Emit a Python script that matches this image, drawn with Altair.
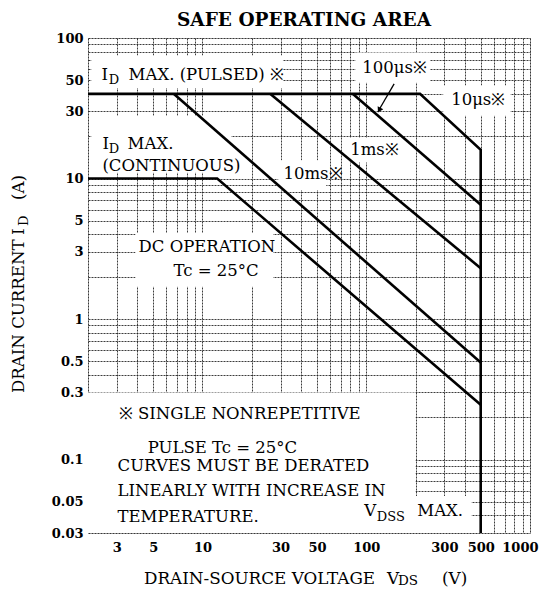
import altair as alt
import pandas as pd

# ---------------- data ----------------
# SOA boundary curves: drain-source voltage (V) and drain current (A)
curve_name = ["10us", "10us", "10us", "10us",
              "100us", "100us",
              "1ms", "1ms",
              "10ms", "10ms",
              "DC", "DC", "DC"]
curve_v = [2, 213, 500, 500,
           83, 500,
           26, 500,
           6.7, 500,
           2, 12.3, 500]
curve_i = [40, 40, 16, 0.03,
           40, 6.5,
           40, 2.3,
           40, 0.49,
           10, 10, 0.245]

# axis tick / grid values
x_grid = [2, 3, 4, 5, 6, 7, 8, 9, 10, 20, 30, 40, 50, 60, 70, 80, 90,
          100, 200, 300, 400, 500, 600, 700, 800, 900, 1000]
x_labels = [3, 5, 10, 30, 50, 100, 300, 500, 1000]
y_grid = [0.03, 0.04, 0.05, 0.06, 0.07, 0.08, 0.09,
          0.1, 0.2, 0.3, 0.4, 0.5, 0.6, 0.7, 0.8, 0.9,
          1, 2, 3, 4, 5, 6, 7, 8, 9,
          10, 20, 30, 40, 50, 60, 70, 80, 90, 100]
y_labels = [0.03, 0.05, 0.1, 0.3, 0.5, 1, 3, 5, 10, 30, 50, 100]

# white label backgrounds (data units)
box_v1 = [2.1, 2.1, 3.9, 29, 74, 86, 295, 2, 95]
box_v2 = [31, 15, 27, 57, 165, 245, 760, 200, 440]
box_i1 = [44, 11, 1.7, 8.3, 13, 48, 28, 0.03, 0.03]
box_i2 = [75, 28, 4.1, 13.5, 19.5, 79, 46, 0.3, 0.055]

# annotation texts (anchor at left, middle)
label_text = ["I", "MAX. (PULSED) ※",
              "I", "MAX.", "(CONTINUOUS)",
              "DC OPERATION", "Tc = 25°C",
              "10ms※", "1ms※", "100μs※", "10μs※",
              "※  SINGLE NONREPETITIVE", "PULSE  Tc = 25°C",
              "CURVES MUST BE DERATED", "LINEARLY WITH INCREASE IN",
              "TEMPERATURE.",
              "V", "MAX."]
label_v = [2.42, 3.54,
           2.45, 3.49, 2.45,
           4.07, 6.65,
           31.2, 79.8, 94.6, 330,
           3.08, 4.63,
           3.03, 3.03,
           3.03,
           97.3, 205]
label_i = [54.5, 54.5,
           17.6, 17.6, 12.3,
           3.23, 2.20,
           10.8, 16.0, 61.2, 36.2,
           0.211, 0.1217,
           0.090, 0.0597,
           0.039,
           0.043, 0.043]

# subscripts
sub_text = ["D", "D", "DSS"]
sub_v = [2.68, 2.68, 116]
sub_i = [50.2, 16.3, 0.0392]

# arrow for the 100 μs label
arrow_v = [148, 121]
arrow_i = [47.1, 31.5]
arrow_head_v = [120]
arrow_head_i = [30.7]

# ---------------- frames ----------------
order = []
cnt = {}
for n in curve_name:
    cnt[n] = cnt.get(n, 0) + 1
    order.append(cnt[n])
curves = pd.DataFrame({"curve": curve_name, "V": curve_v, "I": curve_i, "ord": order})
boxes = pd.DataFrame({"v1": box_v1, "v2": box_v2, "i1": box_i1, "i2": box_i2})
labels = pd.DataFrame({"V": label_v, "I": label_i, "text": label_text})
subs = pd.DataFrame({"V": sub_v, "I": sub_i, "text": sub_text})
arrow = pd.DataFrame({"V": arrow_v, "I": arrow_i, "k": [0, 1]})
head = pd.DataFrame({"V": arrow_head_v, "I": arrow_head_i})

FONT = "DejaVu Serif"

xlab_expr = "indexof(%s, datum.value) >= 0 ? format(datum.value, '~g') : ''" % str(x_labels)
ylab_expr = "indexof(%s, datum.value) >= 0 ? format(datum.value, '~g') : ''" % str(y_labels)

xscale = alt.Scale(type="log", domain=[2, 1000], nice=False)
yscale = alt.Scale(type="log", domain=[0.03, 100], nice=False)

common_axis = dict(title=None, ticks=False, domain=False, labelOverlap=False,
                   labelBound=False, labelFont=FONT, labelFontSize=13,
                   labelFontWeight="bold", labelColor="black", grid=True,
                   gridColor="#1a1a1a", gridDash=[2, 1], gridWidth=1, gridOpacity=0.85)
xaxis = alt.Axis(values=x_grid, labelExpr=xlab_expr, labelPadding=8,
                 labelFlush=True, labelFlushOffset=8, **common_axis)
yaxis = alt.Axis(values=y_grid, labelExpr=ylab_expr, labelPadding=5,
                 labelFlush=False, **common_axis)

box_layer = alt.Chart(boxes).mark_rect(color="white").encode(
    x=alt.X("v1:Q", scale=xscale, axis=xaxis),
    x2="v2:Q",
    y=alt.Y("i1:Q", scale=yscale, axis=yaxis),
    y2="i2:Q",
)

line_layer = alt.Chart(curves).mark_line(color="black", strokeWidth=2.6, clip=True).encode(
    x=alt.X("V:Q", scale=xscale),
    y=alt.Y("I:Q", scale=yscale),
    detail="curve:N",
    order="ord:Q",
)

arrow_layer = alt.Chart(arrow).mark_line(color="black", strokeWidth=1.3).encode(
    x=alt.X("V:Q", scale=xscale),
    y=alt.Y("I:Q", scale=yscale),
    order="k:Q",
)
head_layer = alt.Chart(head).mark_point(shape="triangle-up", filled=True, color="black",
                                        size=40, angle=208, opacity=1).encode(
    x=alt.X("V:Q", scale=xscale),
    y=alt.Y("I:Q", scale=yscale),
)

text_layer = alt.Chart(labels).mark_text(align="left", baseline="middle", font=FONT,
                                         fontSize=16.5, color="black").encode(
    x=alt.X("V:Q", scale=xscale),
    y=alt.Y("I:Q", scale=yscale),
    text="text:N",
)
sub_layer = alt.Chart(subs).mark_text(align="left", baseline="middle", font=FONT,
                                      fontSize=13, color="black").encode(
    x=alt.X("V:Q", scale=xscale),
    y=alt.Y("I:Q", scale=yscale),
    text="text:N",
)

# chart title and axis titles with subscripts (positions relative to the plot area)
title_layer = alt.Chart(pd.DataFrame({"t": ["SAFE OPERATING AREA"]})).mark_text(
    align="center", baseline="alphabetic", font=FONT, fontSize=18.5, fontWeight="bold",
    color="black").encode(x=alt.value(216), y=alt.value(-12), text="t:N")

xt_text = ["DRAIN-SOURCE VOLTAGE", "V", "(V)"]
xt_x = [56, 299, 354]
xtitle = alt.Chart(pd.DataFrame({"t": xt_text, "px": xt_x})).mark_text(
    align="left", baseline="middle", font=FONT, fontSize=16.8, color="black").encode(
    x=alt.X("px:Q", scale=None), y=alt.value(541), text="t:N")
xsub = alt.Chart(pd.DataFrame({"t": ["DS"]})).mark_text(
    align="left", baseline="middle", font=FONT, fontSize=13.5, color="black").encode(
    x=alt.value(310), y=alt.value(543), text="t:N")

yt_text = ["DRAIN CURRENT", "I", "(A)"]
yt_y = [355, 197, 162]
ytitle = alt.Chart(pd.DataFrame({"t": yt_text, "py": yt_y})).mark_text(
    align="left", baseline="middle", font=FONT, fontSize=16.6, color="black", angle=270).encode(
    y=alt.Y("py:Q", scale=None), x=alt.value(-69), text="t:N")
ysub = alt.Chart(pd.DataFrame({"t": ["D"]})).mark_text(
    align="left", baseline="middle", font=FONT, fontSize=13, color="black", angle=270).encode(
    x=alt.value(-64), y=alt.value(188), text="t:N")

chart = alt.layer(
    box_layer, line_layer, arrow_layer, head_layer, text_layer, sub_layer,
    title_layer, xtitle, xsub, ytitle, ysub,
).properties(
    width=442, height=495,
    autosize=alt.AutoSizeParams(type="none"),
    padding={"left": 80, "top": 30, "right": 10, "bottom": 55},
).configure_view(stroke="black", strokeWidth=2).configure(background="white")

chart.save("out.html", embed_options={"renderer": "svg", "actions": False})
